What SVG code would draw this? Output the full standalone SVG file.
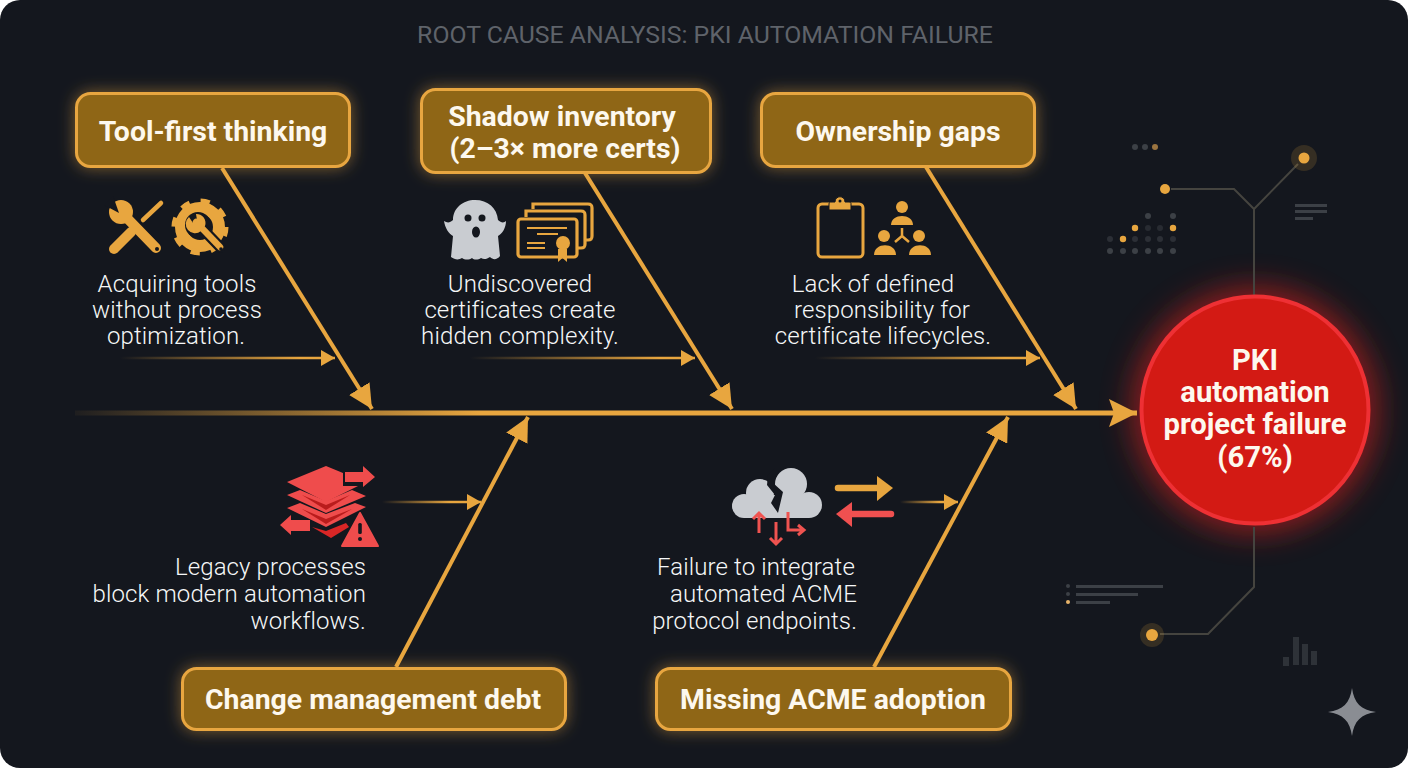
<svg xmlns="http://www.w3.org/2000/svg" width="1408" height="768" viewBox="0 0 1408 768">
<style>
text{font-family:Roboto,"Liberation Sans",sans-serif}
.bx{fill:#8f6619;stroke:#e8a63f;stroke-width:3;filter:url(#glow)}
.bt{font-size:28.4px;font-weight:700;fill:#fdf8ee;text-anchor:middle}
.ct{font-size:29.2px;font-weight:700;fill:#fdf8ee;text-anchor:middle}
.d{font-size:24px;font-weight:300;letter-spacing:.12px;fill:#f6f7f8}
.m{text-anchor:middle}
.e{text-anchor:end}
.bone{stroke:#e8a63f;stroke-width:4;fill:none;marker-end:url(#big)}
.fl{stroke-width:2.500;fill:none;marker-end:url(#sm)}
.o{fill:#e8a63f}
.r{fill:#ef4c4c}
.w{fill:#c9ccd1}
.bg{fill:#14171e}
.tr{fill:none;stroke:#45443f;stroke-width:2}
.dk{fill:#3c4046}
</style>
<defs>
<filter id="glow" x="-20%" y="-40%" width="140%" height="180%"><feGaussianBlur in="SourceAlpha" stdDeviation="8" result="b"/><feFlood flood-color="#e8a63f" flood-opacity=".5"/><feComposite in2="b" operator="in"/><feMerge><feMergeNode/><feMergeNode in="SourceGraphic"/></feMerge></filter>
<filter id="redglow" x="-40%" y="-40%" width="180%" height="180%"><feGaussianBlur stdDeviation="16"/></filter>
<linearGradient id="sp" gradientUnits="userSpaceOnUse" x1="75" y1="0" x2="480" y2="0"><stop offset="0" stop-color="#e8a63f" stop-opacity=".05"/><stop offset="1" stop-color="#e8a63f"/></linearGradient>
<linearGradient id="f1" gradientUnits="userSpaceOnUse" x1="120" y1="0" x2="300" y2="0"><stop offset="0" stop-color="#e8a63f" stop-opacity="0"/><stop offset="1" stop-color="#e8a63f"/></linearGradient>
<linearGradient id="f2" gradientUnits="userSpaceOnUse" x1="470" y1="0" x2="660" y2="0"><stop offset="0" stop-color="#e8a63f" stop-opacity="0"/><stop offset="1" stop-color="#e8a63f"/></linearGradient>
<linearGradient id="f3" gradientUnits="userSpaceOnUse" x1="815" y1="0" x2="1005" y2="0"><stop offset="0" stop-color="#e8a63f" stop-opacity="0"/><stop offset="1" stop-color="#e8a63f"/></linearGradient>
<linearGradient id="f4" gradientUnits="userSpaceOnUse" x1="382" y1="0" x2="450" y2="0"><stop offset="0" stop-color="#e8a63f" stop-opacity="0"/><stop offset="1" stop-color="#e8a63f"/></linearGradient>
<linearGradient id="f5" gradientUnits="userSpaceOnUse" x1="900" y1="0" x2="940" y2="0"><stop offset="0" stop-color="#e8a63f" stop-opacity="0"/><stop offset="1" stop-color="#e8a63f"/></linearGradient>
<marker id="big" markerUnits="userSpaceOnUse" markerWidth="24" markerHeight="24" refX="24" refY="12" orient="auto" viewBox="0 0 24 24"><path d="M0 0L24 12L0 24Z" fill="#e8a63f"/></marker>
<marker id="sm" markerUnits="userSpaceOnUse" markerWidth="14" markerHeight="16" refX="14" refY="8" orient="auto" viewBox="0 0 14 16"><path d="M0 0L14 8L0 16Z" fill="#e8a63f"/></marker>
<marker id="head" markerUnits="userSpaceOnUse" markerWidth="28" markerHeight="28" refX="28" refY="14" orient="auto" viewBox="0 0 28 28"><path d="M0 0L28 14L0 28L5 14Z" fill="#e8a63f"/></marker>
</defs>

<rect width="1408" height="768" fill="#fff"/>
<rect id="panel" width="1408" height="768" rx="20" fill="#14171e"/>
<text id="title" x="705" y="43" font-size="24.8" fill="#5f636a" text-anchor="middle">ROOT CAUSE ANALYSIS: PKI AUTOMATION FAILURE</text>

<circle id="effect-glow" cx="1255" cy="410" r="122" fill="#e8201c" opacity=".6" filter="url(#redglow)"/>

<g id="decor">
<g id="decor-top">
<path class="tr" d="M1171 189H1234L1254 209L1298 164M1254 209V297"/>
<circle cx="1304" cy="158" r="13" fill="#e8a63f" opacity=".16"/><circle cx="1304" cy="158" r="5.500" class="o"/>
<circle cx="1165" cy="189" r="5" class="o"/>
<circle cx="1135" cy="147" r="3" class="dk"/><circle cx="1145" cy="147" r="3" class="dk"/><circle cx="1155" cy="147" r="3" fill="#9b7440"/>
<g class="dk">
<circle cx="1148" cy="216" r="3"/><circle cx="1173" cy="216" r="3"/>
<circle cx="1148" cy="228" r="3" opacity=".5"/><circle cx="1160" cy="228" r="3" opacity=".5"/>
<circle cx="1110" cy="239" r="3" opacity=".6"/><circle cx="1135" cy="239" r="3" opacity=".6"/><circle cx="1148" cy="239" r="3" opacity=".6"/><circle cx="1160" cy="239" r="3" opacity=".6"/><circle cx="1173" cy="239" r="3" opacity=".6"/>
<circle cx="1110" cy="251" r="3"/><circle cx="1123" cy="251" r="3"/><circle cx="1135" cy="251" r="3"/><circle cx="1148" cy="251" r="3"/><circle cx="1160" cy="251" r="3"/><circle cx="1173" cy="251" r="3"/>
</g>
<circle cx="1135" cy="228" r="3.200" class="o"/><circle cx="1173" cy="228" r="3.200" class="o"/><circle cx="1123" cy="239" r="3.200" class="o"/>
<rect class="dk" x="1295" y="204" width="32" height="3"/><rect class="dk" x="1295" y="210" width="32" height="3"/><rect class="dk" x="1295" y="217" width="18" height="3"/>
</g>
<g id="decor-bottom">
<path class="tr" d="M1254 527V587L1208 634H1160"/>
<circle cx="1152" cy="635" r="12" fill="#e8a63f" opacity=".16"/><circle cx="1152" cy="635" r="6" class="o"/>
<circle cx="1068" cy="586" r="2" class="dk"/><circle cx="1068" cy="594" r="2" class="dk"/><circle cx="1068" cy="602" r="2" fill="#e8b46a"/>
<rect class="dk" x="1076" y="585" width="87" height="3"/><rect class="dk" x="1076" y="593" width="62" height="3"/><rect class="dk" x="1076" y="601" width="34" height="3"/>
<g fill="#2e3238"><rect x="1283" y="657" width="6" height="9"/><rect x="1293" y="637" width="6" height="28"/><rect x="1302" y="644" width="6" height="21"/><rect x="1311" y="651" width="6" height="14"/></g>
</g>
<path id="sparkle" d="M1352 688C1354 703 1361 710 1376 712C1361 714 1354 721 1352 736C1350 721 1343 714 1328 712C1343 710 1350 703 1352 688Z" fill="#8a8d93"/>
</g>

<g id="connectors">
<line x1="75" y1="413" x2="480" y2="413" stroke="url(#sp)" stroke-width="5"/>
<line x1="480" y1="413" x2="1137" y2="413" stroke="#e8a63f" stroke-width="5" marker-end="url(#head)"/>
<line class="bone" x1="222" y1="168" x2="372" y2="409"/>
<line class="bone" x1="585" y1="173" x2="732" y2="409"/>
<line class="bone" x1="926" y1="167" x2="1076" y2="409"/>
<line class="bone" x1="396" y1="667" x2="528" y2="417"/>
<line class="bone" x1="874" y1="667" x2="1008" y2="417"/>
<path class="fl" d="M120 358H335" stroke="url(#f1)"/>
<path class="fl" d="M470 358H695" stroke="url(#f2)"/>
<path class="fl" d="M815 358H1040" stroke="url(#f3)"/>
<path class="fl" d="M382 502H481" stroke="url(#f4)"/>
<path class="fl" d="M900 502H958" stroke="url(#f5)"/>
</g>

<g id="node-tool-first">
<rect class="bx" x="76.500" y="93.500" width="273" height="73" rx="14"/>
<text class="bt" x="213" y="140.500">Tool-first thinking</text>
<g id="icon-tools">
<path d="M125 216L156 248" stroke="#e8a63f" stroke-width="10" stroke-linecap="round"/>
<circle cx="121" cy="212" r="12" class="o"/>
<path d="M119 213L113 196 104 205Z" class="bg"/>
<path d="M114 249L131 232" stroke="#e8a63f" stroke-width="10" stroke-linecap="round"/>
<path d="M143 220L161 203" stroke="#e8a63f" stroke-width="4.500" stroke-linecap="round"/>
<circle cx="157" cy="249" r="2" class="bg"/>
<circle cx="200" cy="227" r="19" fill="none" stroke="#e8a63f" stroke-width="12"/>
<circle cx="200" cy="227" r="25.500" fill="none" stroke="#e8a63f" stroke-width="6" stroke-dasharray="9 11"/>
<circle cx="198" cy="225" r="13" class="bg"/>
<path d="M196 222L220 247" stroke="#14171e" stroke-width="11" stroke-linecap="round"/>
<path d="M196 222L220 247" stroke="#e8a63f" stroke-width="6.500" stroke-linecap="round"/>
<path d="M189 217A9 9 0 0 0 201 231L205 226A9 9 0 0 0 196 214L197 220 193 223Z" class="o"/>
<circle cx="221" cy="249" r="1.800" class="bg"/>
</g>
<text class="d m" x="177" y="292">Acquiring tools</text>
<text class="d m" x="177" y="318">without process</text>
<text class="d m" x="176" y="344">optimization.</text>
</g>

<g id="node-shadow">
<rect class="bx" x="421.500" y="89.500" width="289" height="83" rx="14"/>
<text class="bt" x="562" y="125.500">Shadow inventory</text>
<text class="bt" x="565" y="157.500">(2–3× more certs)</text>
<g id="icon-ghost">
<path class="w" d="M453 220C453 208 463 200 475 200C488 200 497 208 498 220C501 223 504 223 506 221C506 228 502 234 498 236L500 256C497 260 493 260 490 257C487 259 484 260 481 258C478 260 474 260 472 258C469 260 465 260 462 258C459 260 455 260 451 257L453 236C449 234 445 228 444 221C447 223 450 223 453 220Z"/>
<circle cx="468" cy="218" r="3.500" class="bg"/><circle cx="482" cy="218" r="3.500" class="bg"/><ellipse cx="476" cy="232" rx="4" ry="5.500" class="bg"/>
</g>
<g id="icon-certs" fill="none" stroke="#e8a63f" stroke-width="3.200">
<path d="M533 209V204H588C591 204 592 205 592 208V236C592 239 591 240 588 240H586"/>
<path d="M526 217V211H581C584 211 585 212 585 215V244C585 247 584 248 581 248H578"/>
<rect x="518" y="219" width="59" height="38" rx="3"/>
<path d="M527 228H567M537 234H558M527 243H545M527 248H545" stroke-width="2"/>
<path d="M558 249V262L562.500 258 567 262V249Z" fill="#e8a63f" stroke="none"/>
<circle cx="563" cy="243" r="7" fill="#e8a63f" stroke="none"/>
</g>
<text class="d m" x="520" y="292">Undiscovered</text>
<text class="d m" x="520" y="318">certificates create</text>
<text class="d m" x="520" y="344">hidden complexity.</text>
</g>

<g id="node-ownership">
<rect class="bx" x="761.500" y="93.500" width="273" height="73" rx="14"/>
<text class="bt" x="898" y="140.500">Ownership gaps</text>
<g id="icon-clipboard">
<rect x="818" y="204" width="45" height="53" rx="4" fill="none" stroke="#e8a63f" stroke-width="3"/>
<path d="M829 210V204C829 202 830 202 832 202H835C835 195 845 195 845 202H849C851 202 851 203 851 204V210Z" fill="#e8a63f" stroke="#14171e" stroke-width="1"/>
<circle cx="840" cy="201" r="1.500" class="bg"/>
</g>
<g id="icon-team" class="o">
<circle cx="902" cy="207" r="6"/><path d="M891 225C891 213 913 213 913 225Z"/>
<circle cx="884" cy="236" r="6"/><path d="M874 255C874 242 896 242 896 255Z"/>
<circle cx="919" cy="236" r="6"/><path d="M909 255C909 242 931 242 931 255Z"/>
<path d="M902 228V236M902 236L895 242M902 236L909 242" stroke="#e8a63f" stroke-width="2.500" fill="none"/>
</g>
<text class="d m" x="873" y="292">Lack of defined</text>
<text class="d m" x="882" y="318">responsibility for</text>
<text class="d m" x="883" y="344">certificate lifecycles.</text>
</g>

<g id="node-change">
<rect class="bx" x="182.500" y="668.500" width="383" height="61" rx="14"/>
<text class="bt" x="373" y="708.500">Change management debt</text>
<g id="icon-layers">
<path class="r" d="M287 482L326 466 343 473V486H358L360 485 326 502Z"/>
<path d="M287 495L300 490 326 501 352 490 366 496 326 513Z" class="r"/>
<path d="M302 495L326 505 350 495 326 510Z" fill="#b91c1c"/>
<path d="M287 508L300 503 326 514 355 503 366 507 326 527Z" class="r"/>
<path d="M302 509L326 519 352 509 326 524Z" fill="#b91c1c"/>
<path d="M312 527L326 531 346 523 349 527 331 538Z" fill="#d92626"/>
<path d="M345 472H363V466L375 477 363 487V482H345Z" class="r"/>
<path d="M310 520H291V515L280 525 291 535V531H310Z" class="r"/>
<path d="M360 513L378 546H342Z" class="r" stroke="#ef4c4c" stroke-width="2" stroke-linejoin="round"/>
<rect x="358.200" y="523" width="3.600" height="11" rx="1.500" class="bg"/><circle cx="360" cy="539" r="2" class="bg"/>
</g>
<text class="d e" x="366" y="575">Legacy processes</text>
<text class="d e" x="366" y="602">block modern automation</text>
<text class="d e" x="366" y="629">workflows.</text>
</g>

<g id="node-acme">
<rect class="bx" x="656.500" y="668.500" width="354" height="61" rx="14"/>
<text class="bt" x="833" y="708.500">Missing ACME adoption</text>
<g id="icon-cloud">
<g class="w"><circle cx="744" cy="506" r="12"/><circle cx="760" cy="493" r="14"/><circle cx="791" cy="484" r="16"/><circle cx="809" cy="505" r="13"/><rect x="744" y="495" width="65" height="23"/></g>
<path d="M768 475L767 485 775 495 771 503 778 513 783 492 773 483 781 468 775 468Z" class="bg"/>
<g stroke="#ef5350" stroke-width="3" fill="none"><path d="M759 533V513M753 519L759 513 765 519"/><path d="M776 522V544M770 538L776 544 782 538"/><path d="M788 512V530H804M798 525L804 530 798 535"/></g>
<path d="M838 488H878" stroke="#e8a63f" stroke-width="6.500" stroke-linecap="round"/><path d="M877 476L893 488 877 501Z" class="o"/>
<path d="M891 514H850" stroke="#f05050" stroke-width="6.500" stroke-linecap="round"/><path d="M852 502L836 514 852 527Z" fill="#f05050"/>
</g>
<text class="d m" x="756" y="575">Failure to integrate</text>
<text class="d e" x="857" y="602">automated ACME</text>
<text class="d e" x="857" y="629">protocol endpoints.</text>
</g>

<g id="node-effect">
<circle cx="1255" cy="410" r="113.500" fill="#d31a14" stroke="#ee3034" stroke-width="4"/>
<text class="ct" x="1255" y="370">PKI</text>
<text class="ct" x="1255" y="402">automation</text>
<text class="ct" x="1255" y="434">project failure</text>
<text class="ct" x="1255" y="467">(67%)</text>
</g>
</svg>
